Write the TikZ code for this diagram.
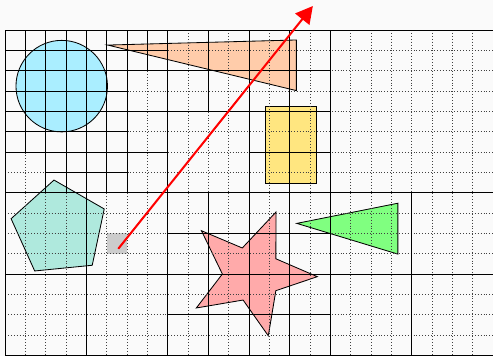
\documentclass[tikz,border=0pt]{standalone}
\usepackage{tikz}
\usetikzlibrary{arrows.meta}
\definecolor{bgcol}{RGB}{250,250,250}
\definecolor{circlefill}{RGB}{170,238,255}
\definecolor{wedgefill}{RGB}{255,204,170}
\definecolor{boxfill}{RGB}{255,230,128}
\definecolor{pentfill}{RGB}{175,233,221}
\definecolor{starfill}{RGB}{255,170,170}
\definecolor{arrowfill}{RGB}{128,255,128}
\definecolor{cellfill}{RGB}{204,204,204}
\tikzset{
    % Grid styles
    fine grid/.style={black!75, line width=0.45pt, dotted},
    split line/.style={black, line width=0.8pt},
    % Object styles
    obj/.style={draw=black, line width=0.7pt},
    % Ray style
    ray/.style={red, line width=1.7pt, -{Triangle[length=0.5cm, width=0.53cm]}},
}
% cross of one quadtree cell: corner (#1,#2), side #3
\newcommand{\qsplit}[3]{%
    \draw[split line] ({#1+#3/2},#2) -- ++(0,#3);
    \draw[split line] (#1,{#2+#3/2}) -- ++(#3,0);
}

\begin{document}
\begin{tikzpicture}[x=0.6cm, y=-0.6cm]
    \useasboundingbox[fill=bgcol] (-0.246,-1.476) rectangle (24,16.035);

    % Objects
    \fill[cellfill] (5,10) rectangle (6,11);
    \draw[obj, fill=circlefill] (2.79,2.76) circle (2.25);
    \draw[obj, fill=wedgefill] (5.05,0.74) -- (14.33,0.49) -- (14.33,2.98) -- cycle;
    \draw[obj, fill=boxfill] (12.80,3.75) rectangle (15.31,7.54);
    \draw[obj, fill=pentfill] (2.41,7.38) -- (4.88,8.80) -- (4.29,11.57)
        -- (1.46,11.85) -- (0.30,9.28) -- cycle;
    \draw[obj, fill=starfill] (13.33,8.95) -- (13.32,11.25) -- (15.36,12.13)
        -- (13.32,12.82) -- (12.95,15.04) -- (11.71,13.28) -- (9.41,13.67)
        -- (10.69,12.00) -- (9.66,9.87) -- (11.67,10.72) -- cycle;
    \draw[obj, fill=arrowfill] (14.35,9.51) -- (19.32,8.52) -- (19.32,11.02) -- cycle;

    % Finest cells
    \foreach \c in {1,...,23}
        \draw[fine grid] (\c,0) -- (\c,16);
    \foreach \r in {1,...,15}
        \draw[fine grid] (0,\r) -- (24,\r);

    % Roots
    \draw[split line] (0,0) rectangle (24,16);
    \draw[split line] (8,0) -- (8,16) (16,0) -- (16,16) (0,8) -- (24,8);

    % Subdivided cells
    \foreach \c/\r/\s in {0/0/8, 0/0/4, 0/0/2, 2/0/2, 0/2/2, 2/2/2,
                          4/0/4, 4/0/2, 6/0/2, 4/2/2,
                          0/4/4, 0/4/2, 2/4/2, 2/6/2,
                          4/4/4, 4/4/2, 4/6/2,
                          8/0/8, 8/0/4, 12/0/4, 12/4/4,
                          0/8/8, 8/8/8, 8/8/4, 12/8/4, 8/12/4, 12/12/4,
                          16/8/8} {
        \qsplit{\c}{\r}{\s}
    }

    % Ray
    \coordinate (ray start) at (5.57,10.76);
    \coordinate (ray end) at (15.14,-1.18);
    \draw[ray] (ray start) -- (ray end);
\end{tikzpicture}
\end{document}
